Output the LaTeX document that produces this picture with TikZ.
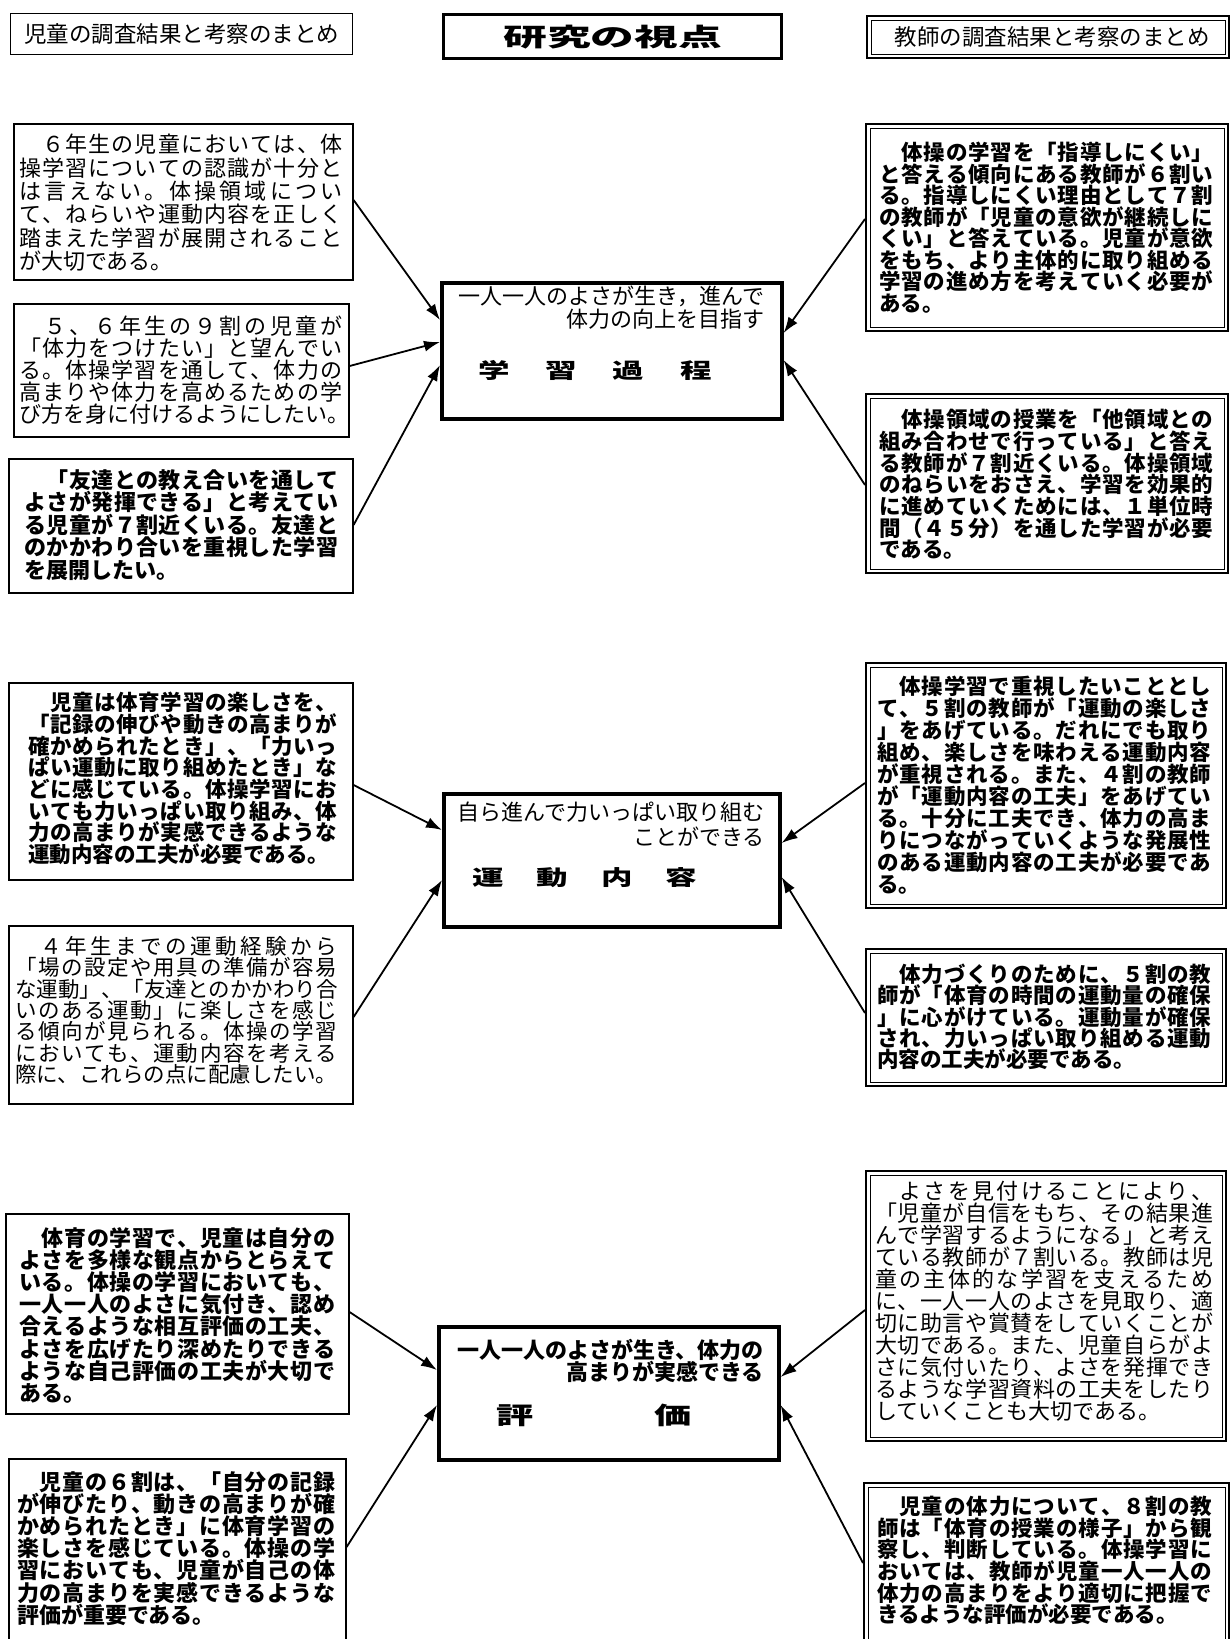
\documentclass[tikz,border=0pt]{standalone}
\usepackage{fontspec}
\usepackage{graphicx}
\newfontfamily\jp{Noto Sans CJK JP}
\usetikzlibrary{arrows.meta}
\def\sprEnd{}
\def\spr#1{\sprA#1\sprEnd}
\def\sprA#1#2{#1\ifx\sprEnd#2\else\hfil\expandafter\sprA\expandafter#2\fi}
\newcommand\J[1]{\makebox[\hsize][s]{\spr{#1}}\\}
\newcommand\E[1]{#1}
\newcommand\fs[2]{\jp\fontsize{#1}{#2}\selectfont\lineskiplimit=-30pt\relax}
\tikzset{
  lb/.style={draw, line width=1.6pt, inner sep=0pt, anchor=north west},
  rb/.style={draw, line width=2.4pt, inner sep=0pt, anchor=north west},
  cb/.style={draw, line width=3.6pt, inner sep=0pt, anchor=north west},
  tx/.style={anchor=north west, inner sep=0pt, align=left},
  ct/.style={anchor=north east, inner sep=0pt, align=right},
  ttl/.style={inner sep=0pt},
  arr/.style={line width=1.8pt, -{Latex[length=16pt,width=11pt]}},
  inbox/.style={line width=0.9pt}
}
\newcommand\dbl[1]{\draw[inbox] ([shift={(5.2,5.2)}]#1.north west) rectangle ([shift={(-5.2,-5.2)}]#1.south east);}
\begin{document}
\begin{tikzpicture}[x=1pt,y=-1pt]
\useasboundingbox (0,0) rectangle (1231,1639);
\fill[white] (0,0) rectangle (1231,1639);

% headers
\node[lb, line width=1.4pt, minimum width=342pt, minimum height=41pt, font=\fs{22.5}{23}] (H1) at (10,13) {児童の調査結果と考察のまとめ};
\node[cb, line width=3.4pt, minimum width=338pt, minimum height=44pt] (H2) at (442,13) {\scalebox{1.75}[1]{\fs{25}{25}\bfseries 研究の視点}};
\node[rb, minimum width=362pt, minimum height=42pt, font=\fs{22.5}{23}] (H3) at (866,15) {\hspace{8pt}教師の調査結果と考察のまとめ};
\dbl{H3}

% ===== group 1 =====
\node[lb, minimum width=339pt, minimum height=156pt] (L1) at (13,123) {};
\node[tx, text width=323pt, font=\fs{22}{23.4}] (L1t) at (19,134) {%
\J{　６年生の児童においては、体}
\J{操学習についての認識が十分と}
\J{は言えない。体操領域につい}
\J{て、ねらいや運動内容を正しく}
\J{踏まえた学習が展開されること}
\E{が大切である。}};

\node[lb, minimum width=335pt, minimum height=133pt] (L2) at (13,303) {};
\node[tx, text width=323pt, font=\fs{22}{22}] (L2t) at (19,316) {%
\J{　５、６年生の９割の児童が}
\J{「体力をつけたい」と望んでい}
\J{る。体操学習を通して、体力の}
\J{高まりや体力を高めるための学}
\E{び方を身に付けるようにしたい。}};

\node[lb, minimum width=344pt, minimum height=134pt] (L3) at (8,458) {};
\node[tx, text width=314pt, font=\fs{22}{22.5}\bfseries] (L3t) at (24,469) {%
\J{　「友達との教え合いを通して}
\J{よさが発揮できる」と考えてい}
\J{る児童が７割近くいる。友達と}
\J{のかかわり合いを重視した学習}
\E{を展開したい。}};

\node[cb, minimum width=340pt, minimum height=136pt] (C1) at (440,281) {};
\node[ct, font=\fs{22}{23}] (C1t) at (765,286) {一人一人のよさが生き，進んで\\体力の向上を目指す};
\node[ttl] (C1h) at (595,370) {\scalebox{1.5}[1]{\fs{21}{21}\bfseries 学\hspace{24pt}習\hspace{24pt}過\hspace{24pt}程}};

\node[rb, minimum width=362pt, minimum height=207pt] (R1) at (865,123) {};
\dbl{R1}
\node[tx, text width=334pt, font=\fs{21.5}{21.5}\bfseries] (R1t) at (879,142) {%
\J{　体操の学習を「指導しにくい」}
\J{と答える傾向にある教師が６割い}
\J{る。指導しにくい理由として７割}
\J{の教師が「児童の意欲が継続しに}
\J{くい」と答えている。児童が意欲}
\J{をもち、より主体的に取り組める}
\J{学習の進め方を考えていく必要が}
\E{ある。}};

\node[rb, minimum width=362pt, minimum height=179pt] (R2) at (865,393) {};
\dbl{R2}
\node[tx, text width=334pt, font=\fs{21.5}{21.7}\bfseries] (R2t) at (879,409) {%
\J{　体操領域の授業を「他領域との}
\J{組み合わせで行っている」と答え}
\J{る教師が７割近くいる。体操領域}
\J{のねらいをおさえ、学習を効果的}
\J{に進めていくためには、１単位時}
\J{間（４５分）を通した学習が必要}
\E{である。}};

\draw[arr] ([shift={(0,77)}]L1.north east) -- ([shift={(0,39)}]C1.north west);
\draw[arr] ([shift={(0,63)}]L2.north east) -- ([shift={(0,61)}]C1.north west);
\draw[arr] ([shift={(0,67)}]L3.north east) -- ([shift={(0,84)}]C1.north west);
\draw[arr] ([shift={(0,96)}]R1.north west) -- ([shift={(0,52)}]C1.north east);
\draw[arr] ([shift={(0,92)}]R2.north west) -- ([shift={(0,79)}]C1.north east);

% ===== group 2 =====
\node[lb, minimum width=344pt, minimum height=197pt] (L4) at (8,682) {};
\node[tx, text width=309pt, font=\fs{21.5}{21.7}\bfseries] (L4t) at (28,692) {%
\J{　児童は体育学習の楽しさを、}
\J{「記録の伸びや動きの高まりが}
\J{確かめられたとき」、「力いっ}
\J{ぱい運動に取り組めたとき」な}
\J{どに感じている。体操学習にお}
\J{いても力いっぱい取り組み、体}
\J{力の高まりが実感できるような}
\E{運動内容の工夫が必要である。}};

\node[lb, minimum width=344pt, minimum height=178pt] (L5) at (8,925) {};
\node[tx, text width=322pt, font=\fs{21.5}{21.4}] (L5t) at (15,936) {%
\J{　４年生までの運動経験から}
\J{「場の設定や用具の準備が容易}
\J{な運動」、「友達とのかかわり合}
\J{いのある運動」に楽しさを感じ}
\J{る傾向が見られる。体操の学習}
\J{においても、運動内容を考える}
\E{際に、これらの点に配慮したい。}};

\node[cb, minimum width=336pt, minimum height=133pt] (C2) at (442,792) {};
\node[ct, font=\fs{22}{25}] (C2t) at (765,802) {自ら進んで力いっぱい取り組む\\ことができる};
\node[ttl] (C2h) at (585,878) {\scalebox{1.5}[1]{\fs{21}{21}\bfseries 運\hspace{22pt}動\hspace{22pt}内\hspace{22pt}容}};

\node[rb, minimum width=360pt, minimum height=245pt] (R3) at (865,662) {};
\dbl{R3}
\node[tx, text width=334pt, font=\fs{21.5}{22}\bfseries] (R3t) at (877,676) {%
\J{　体操学習で重視したいこととし}
\J{て、５割の教師が「運動の楽しさ}
\J{」をあげている。だれにでも取り}
\J{組め、楽しさを味わえる運動内容}
\J{が重視される。また、４割の教師}
\J{が「運動内容の工夫」をあげてい}
\J{る。十分に工夫でき、体力の高ま}
\J{りにつながっていくような発展性}
\J{のある運動内容の工夫が必要であ}
\E{る。}};

\node[rb, minimum width=360pt, minimum height=137pt] (R4) at (865,948) {};
\dbl{R4}
\node[tx, text width=334pt, font=\fs{21.5}{21.2}\bfseries] (R4t) at (877,964) {%
\J{　体力づくりのために、５割の教}
\J{師が「体育の時間の運動量の確保}
\J{」に心がけている。運動量が確保}
\J{され、力いっぱい取り組める運動}
\E{内容の工夫が必要である。}};

\draw[arr] ([shift={(0,103)}]L4.north east) -- ([shift={(0,38)}]C2.north west);
\draw[arr] ([shift={(0,92)}]L5.north east) -- ([shift={(0,88)}]C2.north west);
\draw[arr] ([shift={(0,121)}]R3.north west) -- ([shift={(0,51)}]C2.north east);
\draw[arr] ([shift={(0,65)}]R4.north west) -- ([shift={(0,85)}]C2.north east);

% ===== group 3 =====
\node[lb, minimum width=343pt, minimum height=200pt] (L6) at (5,1213) {};
\node[tx, text width=316pt, font=\fs{22}{22.2}\bfseries] (L6t) at (19,1227) {%
\J{　体育の学習で、児童は自分の}
\J{よさを多様な観点からとらえて}
\J{いる。体操の学習においても、}
\J{一人一人のよさに気付き、認め}
\J{合えるような相互評価の工夫、}
\J{よさを広げたり深めたりできる}
\J{ような自己評価の工夫が大切で}
\E{ある。}};

\node[lb, minimum width=337pt, minimum height=187pt] (L7) at (8,1458) {};
\node[tx, text width=318pt, font=\fs{22}{22.2}\bfseries] (L7t) at (17,1471) {%
\J{　児童の６割は、「自分の記録}
\J{が伸びたり、動きの高まりが確}
\J{かめられたとき」に体育学習の}
\J{楽しさを感じている。体操の学}
\J{習においても、児童が自己の体}
\J{力の高まりを実感できるような}
\E{評価が重要である。}};

\node[cb, minimum width=340pt, minimum height=133pt] (C3) at (437,1325) {};
\node[ct, font=\fs{22}{22}\bfseries] (C3t) at (764,1339) {一人一人のよさが生き、体力の\\高まりが実感できる};
\node[ttl] (C3h) at (594,1415) {\scalebox{1.55}[1]{\fs{24}{24}\bfseries 評\hspace{78pt}価}};

\node[rb, minimum width=360pt, minimum height=270pt] (R5) at (865,1170) {};
\dbl{R5}
\node[tx, text width=338pt, font=\fs{22}{22}] (R5t) at (875,1181) {%
\J{　よさを見付けることにより、}
\J{「児童が自信をもち、その結果進}
\J{んで学習するようになる」と考え}
\J{ている教師が７割いる。教師は児}
\J{童の主体的な学習を支えるため}
\J{に、一人一人のよさを見取り、適}
\J{切に助言や賞賛をしていくことが}
\J{大切である。また、児童自らがよ}
\J{さに気付いたり、よさを発揮でき}
\J{るような学習資料の工夫をしたり}
\E{していくことも大切である。}};

\node[rb, minimum width=365pt, minimum height=163pt] (R6) at (863,1482) {};
\dbl{R6}
\node[tx, text width=335pt, font=\fs{21.5}{21.6}\bfseries] (R6t) at (877,1496) {%
\J{　児童の体力について、８割の教}
\J{師は「体育の授業の様子」から観}
\J{察し、判断している。体操学習に}
\J{おいては、教師が児童一人一人の}
\J{体力の高まりをより適切に把握で}
\E{きるような評価が必要である。}};

\draw[arr] ([shift={(0,99)}]L6.north east) -- ([shift={(0,45)}]C3.north west);
\draw[arr] ([shift={(0,89)}]L7.north east) -- ([shift={(0,80)}]C3.north west);
\draw[arr] ([shift={(0,140)}]R5.north west) -- ([shift={(0,52)}]C3.north east);
\draw[arr] ([shift={(0,81)}]R6.north west) -- ([shift={(0,80)}]C3.north east);
\end{tikzpicture}
\end{document}
